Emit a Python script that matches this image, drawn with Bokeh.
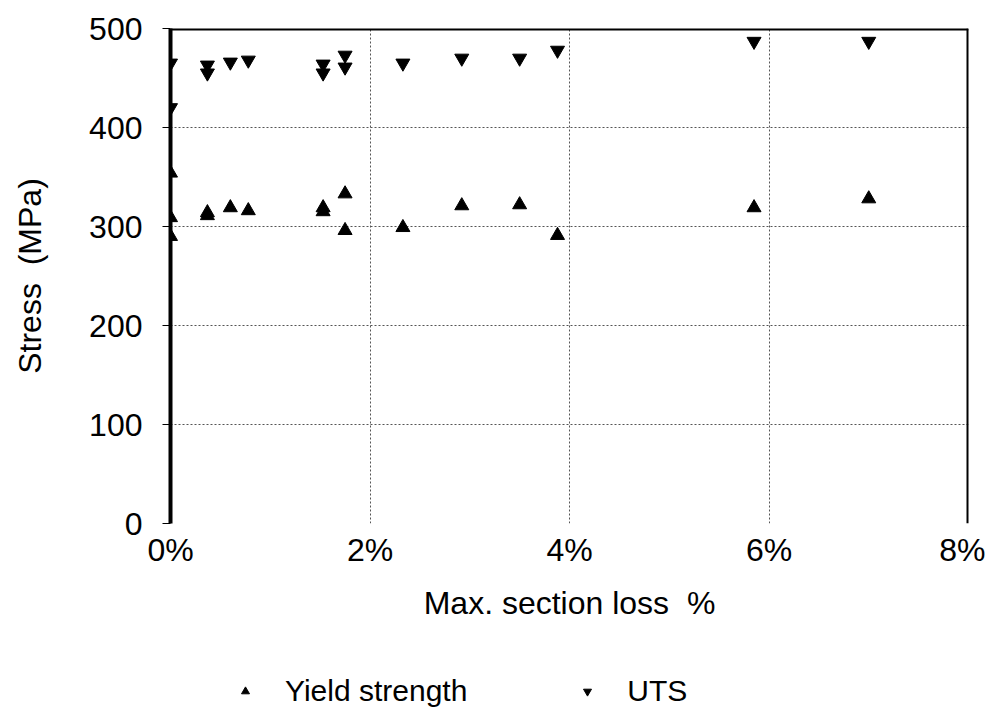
from bokeh.plotting import figure
from bokeh.layouts import column
from bokeh.models import Legend, LegendItem, Span, NumeralTickFormatter, FixedTicker
from bokeh.embed import file_html
from bokeh.resources import INLINE

# Data (section loss in %, stress in MPa)
yield_loss = [0, 0, 0, 0.37, 0.37, 0.6, 0.78, 1.53, 1.53, 1.75, 1.75, 2.33, 2.92, 3.5, 3.88, 5.85, 7.0]
yield_stress = [354, 309, 290, 314, 311, 319, 316, 319, 315, 333, 296, 299, 321, 322, 291, 319, 328]
uts_loss = [0, 0, 0.37, 0.37, 0.6, 0.78, 1.53, 1.53, 1.75, 1.75, 2.33, 2.92, 3.5, 3.88, 5.85, 7.0]
uts_stress = [465, 420, 463, 455, 466, 468, 464, 455, 473, 461, 465, 470, 470, 478, 487, 487]
x_ticks = [0, 0.02, 0.04, 0.06, 0.08]
y_ticks = [0, 100, 200, 300, 400, 500]
series_names = ["Yield strength", "UTS"]

FONT = "Liberation Sans"

p = figure(width=985, height=628, output_backend="svg", toolbar_location=None,
           x_range=(0, 0.08), y_range=(0, 500),
           min_border_left=170, min_border_right=17, min_border_top=28, min_border_bottom=105)
p.outline_line_color = None
p.background_fill_color = "white"

# Axes
p.xaxis.ticker = FixedTicker(ticks=x_ticks)
p.xaxis.formatter = NumeralTickFormatter(format="0%")
p.yaxis.ticker = FixedTicker(ticks=y_ticks)
p.xaxis.axis_label = "Max. section loss\u00a0\u00a0%"
p.yaxis.axis_label = "Stress\u00a0\u00a0(MPa)"
for ax in (p.xaxis, p.yaxis):
    ax.major_label_text_font = FONT
    ax.major_label_text_font_size = "32px"
    ax.major_label_text_color = "black"
    ax.axis_label_text_font = FONT
    ax.axis_label_text_font_size = "32px"
    ax.axis_label_text_font_style = "normal"
    ax.axis_label_text_color = "black"
    ax.minor_tick_line_color = None
p.xaxis.axis_line_color = None
p.xaxis.major_tick_line_color = "black"
p.xaxis.major_tick_out = 0
p.xaxis.major_tick_in = 0
p.xaxis.major_label_standoff = 8
p.xaxis.axis_label_standoff = 14
p.yaxis.axis_line_color = "black"
p.yaxis.axis_line_width = 4
p.yaxis.major_tick_line_color = "black"
p.yaxis.major_tick_line_width = 1
p.yaxis.major_tick_out = 8
p.yaxis.major_tick_in = 0
p.yaxis.major_label_standoff = 20
p.yaxis.axis_label_standoff = 38

# Grid
p.xgrid.grid_line_color = "#555555"
p.xgrid.grid_line_dash = "2 2"
p.ygrid.grid_line_color = "#555555"
p.ygrid.grid_line_dash = "2 2"

# Top and right thick borders
p.add_layout(Span(location=500, dimension="width", line_color="black", line_width=4))
p.add_layout(Span(location=0.08, dimension="height", line_color="black", line_width=4))

p.scatter([v / 100 for v in yield_loss], yield_stress, marker="triangle", size=14,
          fill_color="black", line_color="black")
p.scatter([v / 100 for v in uts_loss], uts_stress, marker="inverted_triangle", size=14,
          fill_color="black", line_color="black")

# Legend strip below the chart (its frame is aligned with the chart's frame;
# the series drawn here lie outside its visible range, so only the legend shows)
lg = figure(width=985, height=80, output_backend="svg", toolbar_location=None,
            x_range=(0, 0.08), y_range=(0, 1), x_axis_type=None, y_axis_type=None,
            min_border_left=170, min_border_right=17, min_border_top=0, min_border_bottom=0)
lg.outline_line_color = None
l1 = lg.scatter([v / 100 for v in yield_loss], yield_stress, marker="triangle", size=14,
                fill_color="black", line_color="black")
l2 = lg.scatter([v / 100 for v in uts_loss], uts_stress, marker="inverted_triangle", size=14,
                fill_color="black", line_color="black")
legend = Legend(items=[LegendItem(label=series_names[0], renderers=[l1]),
                       LegendItem(label=series_names[1], renderers=[l2])],
                orientation="horizontal", location=(65, 0),
                label_text_font=FONT, label_text_font_size="30px", label_text_color="black",
                border_line_color=None, background_fill_alpha=0,
                spacing=110, margin=0, padding=0, glyph_width=20, label_standoff=30)
lg.add_layout(legend)

layout = column(p, lg, spacing=0)
open("out.html", "w").write(file_html(layout, INLINE))
